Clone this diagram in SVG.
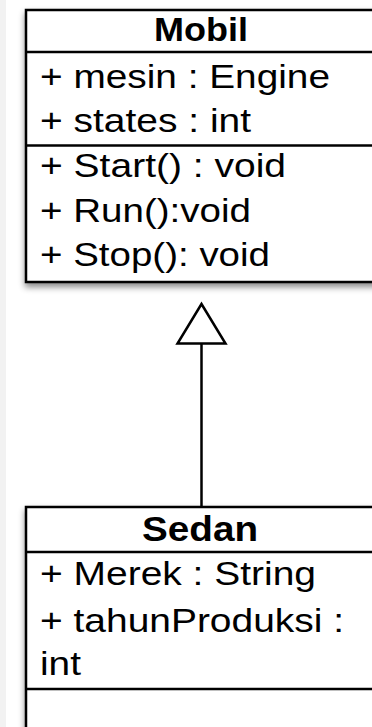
<svg xmlns="http://www.w3.org/2000/svg" width="372" height="727" viewBox="0 0 372 727">
  <style>
    .box { fill: #ffffff; stroke: #000000; stroke-width: 2.5; }
    .sep { stroke: #000000; stroke-width: 2.5; fill: none; }
    .title { font-family: "Liberation Sans", Arial, sans-serif; font-weight: bold; font-size: 33px; fill: #000000; }
    .member { font-family: "Liberation Sans", Arial, sans-serif; font-size: 33px; fill: #000000; }
    .edge { stroke: #000000; stroke-width: 2.5; fill: none; }
    .head { fill: #ffffff; stroke: #000000; stroke-width: 2.5; stroke-linejoin: miter; }
  </style>
  <defs>
    <filter id="shadow" x="-10%" y="-10%" width="130%" height="130%">
      <feDropShadow dx="0" dy="4" stdDeviation="3" flood-color="#000000" flood-opacity="0.45"/>
    </filter>
  </defs>

  <rect x="0" y="0" width="372" height="727" fill="#ffffff"/>
  <rect x="0" y="0" width="6" height="727" fill="#f2f2f2"/>

  <!-- class Mobil -->
  <g id="mobil">
    <rect class="box" x="26" y="10" width="360" height="272" filter="url(#shadow)"/>
    <line class="sep" x1="26" y1="52" x2="386" y2="52"/>
    <line class="sep" x1="26" y1="145.5" x2="386" y2="145.5"/>
    <text class="title" x="154" y="41" textLength="94" lengthAdjust="spacingAndGlyphs">Mobil</text>
    <text class="member" x="40" y="88" textLength="290" lengthAdjust="spacingAndGlyphs">+ mesin : Engine</text>
    <text class="member" x="40" y="132" textLength="211" lengthAdjust="spacingAndGlyphs">+ states : int</text>
    <text class="member" x="40" y="177" textLength="246" lengthAdjust="spacingAndGlyphs">+ Start() : void</text>
    <text class="member" x="40" y="222" textLength="211" lengthAdjust="spacingAndGlyphs">+ Run():void</text>
    <text class="member" x="40" y="266" textLength="230" lengthAdjust="spacingAndGlyphs">+ Stop(): void</text>
  </g>

  <!-- class Sedan -->
  <g id="sedan">
    <rect class="box" x="26" y="507" width="360" height="240" filter="url(#shadow)"/>
    <line class="sep" x1="26" y1="552" x2="386" y2="552"/>
    <line class="sep" x1="26" y1="689" x2="386" y2="689"/>
    <text class="title" x="142" y="541" textLength="116" lengthAdjust="spacingAndGlyphs" style="font-size:35px">Sedan</text>
    <text class="member" x="40" y="585" textLength="276" lengthAdjust="spacingAndGlyphs">+ Merek : String</text>
    <text class="member" x="40" y="632" textLength="304" lengthAdjust="spacingAndGlyphs">+ tahunProduksi :</text>
    <text class="member" x="40" y="675" textLength="41" lengthAdjust="spacingAndGlyphs">int</text>
  </g>

  <!-- generalization Sedan -> Mobil -->
  <g id="connectors">
    <line class="edge" x1="201.5" y1="344" x2="201.5" y2="507"/>
    <polygon class="head" points="201.5,304 177.5,343.5 225.5,343.5"/>
  </g>
</svg>
